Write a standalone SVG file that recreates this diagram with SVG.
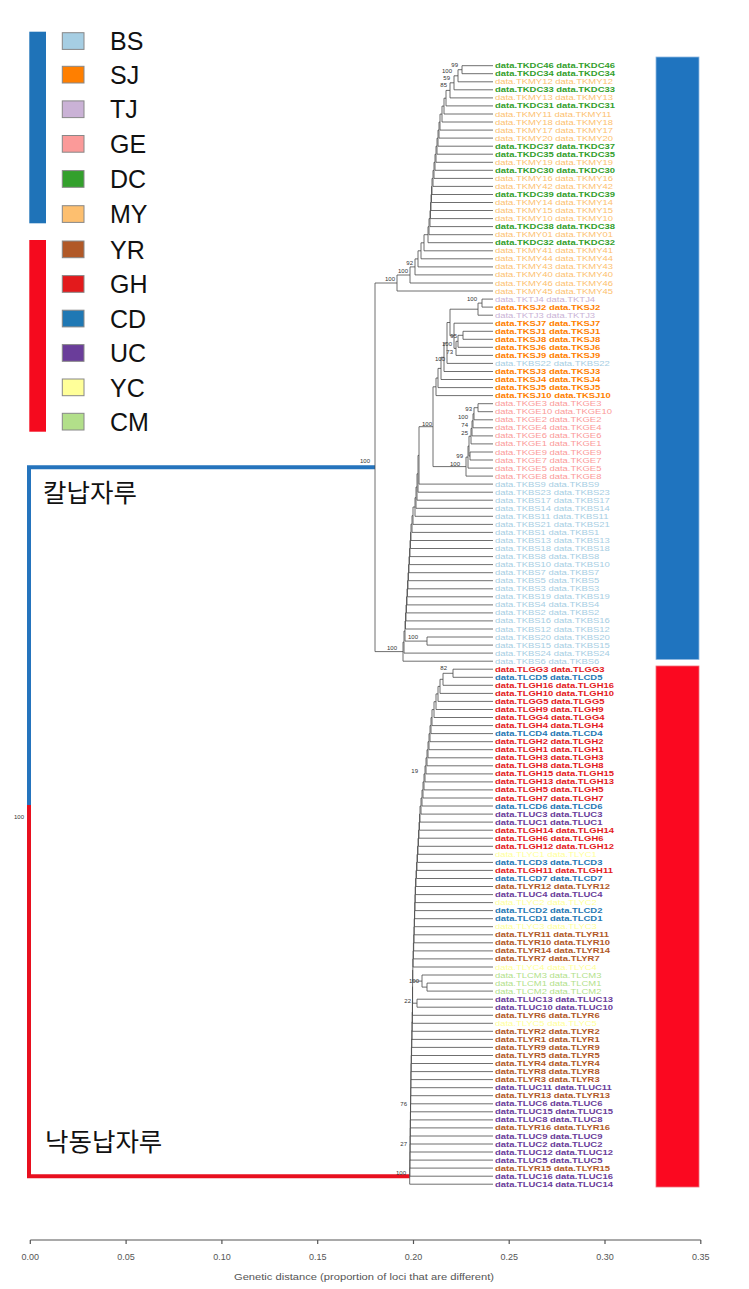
<svg xmlns="http://www.w3.org/2000/svg" width="749" height="1289" viewBox="0 0 749 1289">
<style>
text{font-family:"Liberation Sans",Arial,sans-serif}
.br{fill:none;stroke:#4a4a4a;stroke-width:0.8}
.nl{font-size:6px;fill:#333;text-anchor:end}
.tip text{font-size:7px}
.BS{fill:#a6cee3}.SJ{fill:#ff7f00;font-weight:bold}.TJ{fill:#cab2d6}.GE{fill:#fb9a99}
.DC{fill:#33a02c;font-weight:bold}.MY{fill:#fdbf6f}.YR{fill:#b15928;font-weight:bold}
.GH{fill:#e31a1c;font-weight:bold}.CD{fill:#1f78b4;font-weight:bold}.UC{fill:#6a3d9a;font-weight:bold}
.YC{fill:#ffff99}.CM{fill:#b2df8a}
.sq{stroke:#888;stroke-width:1}
.lg{font-size:25px;fill:#111}
.kr{font-family:"Noto Sans CJK KR","Noto Sans CJK SC",sans-serif;font-size:25.5px;fill:#111}
.ax{font-size:9px;fill:#555;text-anchor:middle}
</style>
<rect width="749" height="1289" fill="#fff"/>

<g id="legend">
<rect x="29.3" y="31.7" width="16.7" height="191.6" fill="#1f73b8"/>
<rect x="29.3" y="240" width="16.7" height="191.7" fill="#f50a1e"/>
<g id="lg-BS"><rect class="sq" x="62.3" y="32.7" width="21.7" height="16.7" fill="#a6cee3"/><text class="lg" x="110" y="50.2">BS</text></g>
<g id="lg-SJ"><rect class="sq" x="62.3" y="66.3" width="21.7" height="16.7" fill="#ff7f00"/><text class="lg" x="110" y="83.8">SJ</text></g>
<g id="lg-TJ"><rect class="sq" x="62.3" y="100.9" width="21.7" height="16.7" fill="#cab2d6"/><text class="lg" x="110" y="118.4">TJ</text></g>
<g id="lg-GE"><rect class="sq" x="62.3" y="135.5" width="21.7" height="16.7" fill="#fb9a99"/><text class="lg" x="110" y="153">GE</text></g>
<g id="lg-DC"><rect class="sq" x="62.3" y="170.6" width="21.7" height="16.7" fill="#33a02c"/><text class="lg" x="110" y="188.1">DC</text></g>
<g id="lg-MY"><rect class="sq" x="62.3" y="205.7" width="21.7" height="16.7" fill="#fdbf6f"/><text class="lg" x="110" y="223.2">MY</text></g>
<g id="lg-YR"><rect class="sq" x="62.3" y="241" width="21.7" height="16.7" fill="#b15928"/><text class="lg" x="110" y="258.5">YR</text></g>
<g id="lg-GH"><rect class="sq" x="62.3" y="275.6" width="21.7" height="16.7" fill="#e31a1c"/><text class="lg" x="110" y="293.1">GH</text></g>
<g id="lg-CD"><rect class="sq" x="62.3" y="310.2" width="21.7" height="16.7" fill="#1f78b4"/><text class="lg" x="110" y="327.7">CD</text></g>
<g id="lg-UC"><rect class="sq" x="62.3" y="344.6" width="21.7" height="16.7" fill="#6a3d9a"/><text class="lg" x="110" y="362.1">UC</text></g>
<g id="lg-YC"><rect class="sq" x="62.3" y="379" width="21.7" height="16.7" fill="#ffff99"/><text class="lg" x="110" y="396.5">YC</text></g>
<g id="lg-CM"><rect class="sq" x="62.3" y="413.3" width="21.7" height="16.7" fill="#b2df8a"/><text class="lg" x="110" y="430.8">CM</text></g>
</g>

<g id="bars">
<rect id="bar-blue" x="656" y="57" width="43" height="602.5" fill="#1f74bf" stroke="#8fb8e0" stroke-width="0.8"/>
<rect id="bar-red" x="656" y="666" width="43" height="521" fill="#fb0820" stroke="#f0707a" stroke-width="0.8"/>
</g>

<g id="clade-labels">
<text class="kr" x="43" y="502">칼납자루</text>
<text class="kr" x="45" y="1151">낙동납자루</text>
</g>

<g id="connectors">
<path d="M375,467.3H29V805" fill="none" stroke="#2574bd" stroke-width="4"/>
<path d="M29,805V1176.2H409.7" fill="none" stroke="#e8101f" stroke-width="4"/>
<path class="br" d="M493,65.7H462V73.7H493M462,69.7H458V81.8H493M458,75.8H454V89.8H493M454,82.8H450V97.9H493M450,90.4H446V105.9H493M446,98.2H444V114H493M444,106.1H442V122H493M442,114.1H440V130.1H493M440,122.1H439V138.1H493M439,130.1H438V146.2H493M438,138.2H437V154.2H493M437,146.2H436V162.3H493M436,154.3H435V170.3H493M435,162.3H434V178.4H493M434,170.4H433V186.4H493M433,178.4H432V194.5H493M432,186.5H431.5V202.5H493M431.5,194.5H431V210.5H493M431,202.5H430.5V218.6H493M430.5,210.6H430V226.6H493M430,218.6H429V234.7H493M429,226.7H428V242.7H493M428,234.7H424V250.8H493M424,242.8H421V258.8H493M421,250.8H418V266.9H493M418,258.9H415V274.9H493M415,266.9H410V283H493M410,275H397V291H493"/>
<path class="br" d="M493,299.1H482V307.1H493M482,303.1H478V315.2H493M493,331.3H463V339.3H493M463,335.3H458V347.3H493M458,341.3H456V355.4H493M493,323.2H454V348.4H456M478,309.2H450V335.8H454M450,322.5H447V363.4H493M447,343H444V371.5H493M444,357.3H441V379.5H493M441,368.4H438V387.6H493M438,378H436V395.6H493"/>
<path class="br" d="M493,403.7H478V411.7H493M478,407.7H474V419.8H493M474,413.8H473V427.8H493M473,420.8H472V435.9H493M472,428.4H471V443.9H493M493,452H470V460H493M471,436.2H469V456H470M469,446.1H468V468.1H493M468,457.1H466V476.1H493M436,386.8H433V466.6H466"/>
<path class="br" d="M433,426.7H419V484.1H493M419,455.4H418V492.2H493M418,473.8H417V500.2H493M417,487H416V508.3H493M416,497.7H415V516.3H493M415,507H413V524.4H493M413,515.7H412V532.4H493M412,524.1H411V540.5H493M411,532.3H410.5V548.5H493M410.5,540.4H410V556.6H493M410,548.5H409.5V564.6H493M409.5,556.6H409V572.7H493M409,564.6H408.5V580.7H493M408.5,572.7H408V588.8H493M408,580.7H407.5V596.8H493M407.5,588.8H407V604.9H493M407,596.8H406.5V612.9H493M406.5,604.9H406V620.9H493M406,612.9H405.5V629H493M493,637H427V645.1H493M405.5,621H405V641.1H427M405,631H404V653.1H493M404,642.1H403V661.2H493M397,283H375V651.6H403"/>
<path class="br" d="M493,669.2H453V677.3H493M453,673.3H443V685.3H493M443,679.3H440V693.4H493M440,686.4H438V701.4H493M438,693.9H436V709.5H493M436,701.7H434V717.5H493M434,709.6H432V725.6H493M432,717.6H431V733.6H493M431,725.6H430V741.7H493M430,733.7H429V749.7H493M429,741.7H428V757.8H493M428,749.8H427V765.8H493M427,757.8H426V773.9H493M426,765.9H425V781.9H493M425,773.9H424V789.9H493M424,781.9H423V798H493M423,790H422V806H493M422,798H421V814.1H493M421,806.1H420V822.1H493M420,814.1H419.5V830.2H493M419.5,822.2H419V838.2H493M419,830.2H418.5V846.3H493M418.5,838.3H418V854.3H493M418,846.3H417.5V862.4H493M417.5,854.4H417V870.4H493M417,862.4H416.5V878.5H493M416.5,870.5H416V886.5H493M416,878.5H415.5V894.6H493M415.5,886.6H415.2V902.6H493M415.2,894.6H415V910.6H493M415,902.6H414.7V918.7H493M414.7,910.7H414.5V926.7H493M414.5,918.7H414.2V934.8H493M414.2,926.8H414V942.8H493M414,934.8H413.7V950.9H493M413.7,942.9H413.4V958.9H493M413.4,950.9H413.1V967H493"/>
<path class="br" d="M493,983.1H427V991.1H493M493,975H422V987.1H427M413.1,959H412.8V981.1H422M493,999.2H417V1007.2H493M412.8,970.1H412.6V1003.2H417M412.6,986.7H412.5V1015.3H493M412.5,1001H412.4V1023.3H493M412.4,1012.2H412.2V1031.3H493M412.2,1021.8H412V1039.4H493M412,1030.6H411.8V1047.4H493M411.8,1039H411.6V1055.5H493M411.6,1047.3H411.4V1063.5H493M411.4,1055.4H411.2V1071.6H493M411.2,1063.5H411V1079.6H493M411,1071.6H410.9V1087.7H493M410.9,1079.7H410.8V1095.7H493M410.8,1087.7H410.7V1103.8H493M410.7,1095.8H410.6V1111.8H493M410.6,1103.8H410.5V1119.9H493M410.5,1111.9H410.4V1127.9H493M410.4,1119.9H410.3V1136H493M410.3,1128H410.2V1144H493M410.2,1136H410.1V1152H493M410.1,1144H410V1160.1H493M410,1152.1H409.9V1168.1H493M409.9,1160.1H409.8V1176.2H493M409.8,1168.2H409.7V1184.2H493"/>
</g>

<g id="node-labels">
<text class="nl" x="458" y="67">99</text>
<text class="nl" x="452" y="73">100</text>
<text class="nl" x="450" y="80">59</text>
<text class="nl" x="447" y="87">85</text>
<text class="nl" x="413" y="265">92</text>
<text class="nl" x="408" y="273">100</text>
<text class="nl" x="395" y="281">100</text>
<text class="nl" x="477" y="301">100</text>
<text class="nl" x="457" y="338">95</text>
<text class="nl" x="452" y="346">100</text>
<text class="nl" x="453" y="354">73</text>
<text class="nl" x="445" y="361">100</text>
<text class="nl" x="472" y="411">93</text>
<text class="nl" x="468" y="419">100</text>
<text class="nl" x="468" y="427">74</text>
<text class="nl" x="468" y="435">25</text>
<text class="nl" x="463" y="458">99</text>
<text class="nl" x="460" y="466">100</text>
<text class="nl" x="432" y="426">100</text>
<text class="nl" x="418" y="639">100</text>
<text class="nl" x="397" y="650">100</text>
<text class="nl" x="370" y="463">100</text>
<text class="nl" x="24" y="819">100</text>
<text class="nl" x="447" y="670">82</text>
<text class="nl" x="418" y="773">19</text>
<text class="nl" x="419" y="983">100</text>
<text class="nl" x="411" y="1003">22</text>
<text class="nl" x="407" y="1106">76</text>
<text class="nl" x="407" y="1146">27</text>
<text class="nl" x="406" y="1175">100</text>
</g>

<g id="tips" class="tip">
<g id="t0"><text class="DC" transform="matrix(1.35 0 0 1 495 68.2)">data.TKDC46 data.TKDC46</text></g>
<g id="t1"><text class="DC" transform="matrix(1.35 0 0 1 495 76.2)">data.TKDC34 data.TKDC34</text></g>
<g id="t2"><text class="MY" transform="matrix(1.35 0 0 1 495 84.3)">data.TKMY12 data.TKMY12</text></g>
<g id="t3"><text class="DC" transform="matrix(1.35 0 0 1 495 92.3)">data.TKDC33 data.TKDC33</text></g>
<g id="t4"><text class="MY" transform="matrix(1.35 0 0 1 495 100.4)">data.TKMY13 data.TKMY13</text></g>
<g id="t5"><text class="DC" transform="matrix(1.35 0 0 1 495 108.4)">data.TKDC31 data.TKDC31</text></g>
<g id="t6"><text class="MY" transform="matrix(1.35 0 0 1 495 116.5)">data.TKMY11 data.TKMY11</text></g>
<g id="t7"><text class="MY" transform="matrix(1.35 0 0 1 495 124.5)">data.TKMY18 data.TKMY18</text></g>
<g id="t8"><text class="MY" transform="matrix(1.35 0 0 1 495 132.6)">data.TKMY17 data.TKMY17</text></g>
<g id="t9"><text class="MY" transform="matrix(1.35 0 0 1 495 140.6)">data.TKMY20 data.TKMY20</text></g>
<g id="t10"><text class="DC" transform="matrix(1.35 0 0 1 495 148.7)">data.TKDC37 data.TKDC37</text></g>
<g id="t11"><text class="DC" transform="matrix(1.35 0 0 1 495 156.7)">data.TKDC35 data.TKDC35</text></g>
<g id="t12"><text class="MY" transform="matrix(1.35 0 0 1 495 164.8)">data.TKMY19 data.TKMY19</text></g>
<g id="t13"><text class="DC" transform="matrix(1.35 0 0 1 495 172.8)">data.TKDC30 data.TKDC30</text></g>
<g id="t14"><text class="MY" transform="matrix(1.35 0 0 1 495 180.9)">data.TKMY16 data.TKMY16</text></g>
<g id="t15"><text class="MY" transform="matrix(1.35 0 0 1 495 188.9)">data.TKMY42 data.TKMY42</text></g>
<g id="t16"><text class="DC" transform="matrix(1.35 0 0 1 495 197)">data.TKDC39 data.TKDC39</text></g>
<g id="t17"><text class="MY" transform="matrix(1.35 0 0 1 495 205)">data.TKMY14 data.TKMY14</text></g>
<g id="t18"><text class="MY" transform="matrix(1.35 0 0 1 495 213)">data.TKMY15 data.TKMY15</text></g>
<g id="t19"><text class="MY" transform="matrix(1.35 0 0 1 495 221.1)">data.TKMY10 data.TKMY10</text></g>
<g id="t20"><text class="DC" transform="matrix(1.35 0 0 1 495 229.1)">data.TKDC38 data.TKDC38</text></g>
<g id="t21"><text class="MY" transform="matrix(1.35 0 0 1 495 237.2)">data.TKMY01 data.TKMY01</text></g>
<g id="t22"><text class="DC" transform="matrix(1.35 0 0 1 495 245.2)">data.TKDC32 data.TKDC32</text></g>
<g id="t23"><text class="MY" transform="matrix(1.35 0 0 1 495 253.3)">data.TKMY41 data.TKMY41</text></g>
<g id="t24"><text class="MY" transform="matrix(1.35 0 0 1 495 261.3)">data.TKMY44 data.TKMY44</text></g>
<g id="t25"><text class="MY" transform="matrix(1.35 0 0 1 495 269.4)">data.TKMY43 data.TKMY43</text></g>
<g id="t26"><text class="MY" transform="matrix(1.35 0 0 1 495 277.4)">data.TKMY40 data.TKMY40</text></g>
<g id="t27"><text class="MY" transform="matrix(1.35 0 0 1 495 285.5)">data.TKMY46 data.TKMY46</text></g>
<g id="t28"><text class="MY" transform="matrix(1.35 0 0 1 495 293.5)">data.TKMY45 data.TKMY45</text></g>
<g id="t29"><text class="TJ" transform="matrix(1.35 0 0 1 495 301.6)">data.TKTJ4 data.TKTJ4</text></g>
<g id="t30"><text class="SJ" transform="matrix(1.35 0 0 1 495 309.6)">data.TKSJ2 data.TKSJ2</text></g>
<g id="t31"><text class="TJ" transform="matrix(1.35 0 0 1 495 317.7)">data.TKTJ3 data.TKTJ3</text></g>
<g id="t32"><text class="SJ" transform="matrix(1.35 0 0 1 495 325.7)">data.TKSJ7 data.TKSJ7</text></g>
<g id="t33"><text class="SJ" transform="matrix(1.35 0 0 1 495 333.8)">data.TKSJ1 data.TKSJ1</text></g>
<g id="t34"><text class="SJ" transform="matrix(1.35 0 0 1 495 341.8)">data.TKSJ8 data.TKSJ8</text></g>
<g id="t35"><text class="SJ" transform="matrix(1.35 0 0 1 495 349.8)">data.TKSJ6 data.TKSJ6</text></g>
<g id="t36"><text class="SJ" transform="matrix(1.35 0 0 1 495 357.9)">data.TKSJ9 data.TKSJ9</text></g>
<g id="t37"><text class="BS" transform="matrix(1.35 0 0 1 495 365.9)">data.TKBS22 data.TKBS22</text></g>
<g id="t38"><text class="SJ" transform="matrix(1.35 0 0 1 495 374)">data.TKSJ3 data.TKSJ3</text></g>
<g id="t39"><text class="SJ" transform="matrix(1.35 0 0 1 495 382)">data.TKSJ4 data.TKSJ4</text></g>
<g id="t40"><text class="SJ" transform="matrix(1.35 0 0 1 495 390.1)">data.TKSJ5 data.TKSJ5</text></g>
<g id="t41"><text class="SJ" transform="matrix(1.35 0 0 1 495 398.1)">data.TKSJ10 data.TKSJ10</text></g>
<g id="t42"><text class="GE" transform="matrix(1.35 0 0 1 495 406.2)">data.TKGE3 data.TKGE3</text></g>
<g id="t43"><text class="GE" transform="matrix(1.35 0 0 1 495 414.2)">data.TKGE10 data.TKGE10</text></g>
<g id="t44"><text class="GE" transform="matrix(1.35 0 0 1 495 422.3)">data.TKGE2 data.TKGE2</text></g>
<g id="t45"><text class="GE" transform="matrix(1.35 0 0 1 495 430.3)">data.TKGE4 data.TKGE4</text></g>
<g id="t46"><text class="GE" transform="matrix(1.35 0 0 1 495 438.4)">data.TKGE6 data.TKGE6</text></g>
<g id="t47"><text class="GE" transform="matrix(1.35 0 0 1 495 446.4)">data.TKGE1 data.TKGE1</text></g>
<g id="t48"><text class="GE" transform="matrix(1.35 0 0 1 495 454.5)">data.TKGE9 data.TKGE9</text></g>
<g id="t49"><text class="GE" transform="matrix(1.35 0 0 1 495 462.5)">data.TKGE7 data.TKGE7</text></g>
<g id="t50"><text class="GE" transform="matrix(1.35 0 0 1 495 470.6)">data.TKGE5 data.TKGE5</text></g>
<g id="t51"><text class="GE" transform="matrix(1.35 0 0 1 495 478.6)">data.TKGE8 data.TKGE8</text></g>
<g id="t52"><text class="BS" transform="matrix(1.35 0 0 1 495 486.6)">data.TKBS9 data.TKBS9</text></g>
<g id="t53"><text class="BS" transform="matrix(1.35 0 0 1 495 494.7)">data.TKBS23 data.TKBS23</text></g>
<g id="t54"><text class="BS" transform="matrix(1.35 0 0 1 495 502.7)">data.TKBS17 data.TKBS17</text></g>
<g id="t55"><text class="BS" transform="matrix(1.35 0 0 1 495 510.8)">data.TKBS14 data.TKBS14</text></g>
<g id="t56"><text class="BS" transform="matrix(1.35 0 0 1 495 518.8)">data.TKBS11 data.TKBS11</text></g>
<g id="t57"><text class="BS" transform="matrix(1.35 0 0 1 495 526.9)">data.TKBS21 data.TKBS21</text></g>
<g id="t58"><text class="BS" transform="matrix(1.35 0 0 1 495 534.9)">data.TKBS1 data.TKBS1</text></g>
<g id="t59"><text class="BS" transform="matrix(1.35 0 0 1 495 543)">data.TKBS13 data.TKBS13</text></g>
<g id="t60"><text class="BS" transform="matrix(1.35 0 0 1 495 551)">data.TKBS18 data.TKBS18</text></g>
<g id="t61"><text class="BS" transform="matrix(1.35 0 0 1 495 559.1)">data.TKBS8 data.TKBS8</text></g>
<g id="t62"><text class="BS" transform="matrix(1.35 0 0 1 495 567.1)">data.TKBS10 data.TKBS10</text></g>
<g id="t63"><text class="BS" transform="matrix(1.35 0 0 1 495 575.2)">data.TKBS7 data.TKBS7</text></g>
<g id="t64"><text class="BS" transform="matrix(1.35 0 0 1 495 583.2)">data.TKBS5 data.TKBS5</text></g>
<g id="t65"><text class="BS" transform="matrix(1.35 0 0 1 495 591.3)">data.TKBS3 data.TKBS3</text></g>
<g id="t66"><text class="BS" transform="matrix(1.35 0 0 1 495 599.3)">data.TKBS19 data.TKBS19</text></g>
<g id="t67"><text class="BS" transform="matrix(1.35 0 0 1 495 607.4)">data.TKBS4 data.TKBS4</text></g>
<g id="t68"><text class="BS" transform="matrix(1.35 0 0 1 495 615.4)">data.TKBS2 data.TKBS2</text></g>
<g id="t69"><text class="BS" transform="matrix(1.35 0 0 1 495 623.4)">data.TKBS16 data.TKBS16</text></g>
<g id="t70"><text class="BS" transform="matrix(1.35 0 0 1 495 631.5)">data.TKBS12 data.TKBS12</text></g>
<g id="t71"><text class="BS" transform="matrix(1.35 0 0 1 495 639.5)">data.TKBS20 data.TKBS20</text></g>
<g id="t72"><text class="BS" transform="matrix(1.35 0 0 1 495 647.6)">data.TKBS15 data.TKBS15</text></g>
<g id="t73"><text class="BS" transform="matrix(1.35 0 0 1 495 655.6)">data.TKBS24 data.TKBS24</text></g>
<g id="t74"><text class="BS" transform="matrix(1.35 0 0 1 495 663.7)">data.TKBS6 data.TKBS6</text></g>
<g id="t75"><text class="GH" transform="matrix(1.35 0 0 1 495 671.7)">data.TLGG3 data.TLGG3</text></g>
<g id="t76"><text class="CD" transform="matrix(1.35 0 0 1 495 679.8)">data.TLCD5 data.TLCD5</text></g>
<g id="t77"><text class="GH" transform="matrix(1.35 0 0 1 495 687.8)">data.TLGH16 data.TLGH16</text></g>
<g id="t78"><text class="GH" transform="matrix(1.35 0 0 1 495 695.9)">data.TLGH10 data.TLGH10</text></g>
<g id="t79"><text class="GH" transform="matrix(1.35 0 0 1 495 703.9)">data.TLGG5 data.TLGG5</text></g>
<g id="t80"><text class="GH" transform="matrix(1.35 0 0 1 495 712)">data.TLGH9 data.TLGH9</text></g>
<g id="t81"><text class="GH" transform="matrix(1.35 0 0 1 495 720)">data.TLGG4 data.TLGG4</text></g>
<g id="t82"><text class="GH" transform="matrix(1.35 0 0 1 495 728.1)">data.TLGH4 data.TLGH4</text></g>
<g id="t83"><text class="CD" transform="matrix(1.35 0 0 1 495 736.1)">data.TLCD4 data.TLCD4</text></g>
<g id="t84"><text class="GH" transform="matrix(1.35 0 0 1 495 744.2)">data.TLGH2 data.TLGH2</text></g>
<g id="t85"><text class="GH" transform="matrix(1.35 0 0 1 495 752.2)">data.TLGH1 data.TLGH1</text></g>
<g id="t86"><text class="GH" transform="matrix(1.35 0 0 1 495 760.3)">data.TLGH3 data.TLGH3</text></g>
<g id="t87"><text class="GH" transform="matrix(1.35 0 0 1 495 768.3)">data.TLGH8 data.TLGH8</text></g>
<g id="t88"><text class="GH" transform="matrix(1.35 0 0 1 495 776.4)">data.TLGH15 data.TLGH15</text></g>
<g id="t89"><text class="GH" transform="matrix(1.35 0 0 1 495 784.4)">data.TLGH13 data.TLGH13</text></g>
<g id="t90"><text class="GH" transform="matrix(1.35 0 0 1 495 792.4)">data.TLGH5 data.TLGH5</text></g>
<g id="t91"><text class="GH" transform="matrix(1.35 0 0 1 495 800.5)">data.TLGH7 data.TLGH7</text></g>
<g id="t92"><text class="CD" transform="matrix(1.35 0 0 1 495 808.5)">data.TLCD6 data.TLCD6</text></g>
<g id="t93"><text class="UC" transform="matrix(1.35 0 0 1 495 816.6)">data.TLUC3 data.TLUC3</text></g>
<g id="t94"><text class="UC" transform="matrix(1.35 0 0 1 495 824.6)">data.TLUC1 data.TLUC1</text></g>
<g id="t95"><text class="GH" transform="matrix(1.35 0 0 1 495 832.7)">data.TLGH14 data.TLGH14</text></g>
<g id="t96"><text class="GH" transform="matrix(1.35 0 0 1 495 840.7)">data.TLGH6 data.TLGH6</text></g>
<g id="t97"><text class="GH" transform="matrix(1.35 0 0 1 495 848.8)">data.TLGH12 data.TLGH12</text></g>
<g id="t98"><text class="YC" transform="matrix(1.35 0 0 1 495 856.8)">data.TLYC1 data.TLYC1</text></g>
<g id="t99"><text class="CD" transform="matrix(1.35 0 0 1 495 864.9)">data.TLCD3 data.TLCD3</text></g>
<g id="t100"><text class="GH" transform="matrix(1.35 0 0 1 495 872.9)">data.TLGH11 data.TLGH11</text></g>
<g id="t101"><text class="CD" transform="matrix(1.35 0 0 1 495 881)">data.TLCD7 data.TLCD7</text></g>
<g id="t102"><text class="YR" transform="matrix(1.35 0 0 1 495 889)">data.TLYR12 data.TLYR12</text></g>
<g id="t103"><text class="UC" transform="matrix(1.35 0 0 1 495 897.1)">data.TLUC4 data.TLUC4</text></g>
<g id="t104"><text class="YC" transform="matrix(1.35 0 0 1 495 905.1)">data.TLYC2 data.TLYC2</text></g>
<g id="t105"><text class="CD" transform="matrix(1.35 0 0 1 495 913.1)">data.TLCD2 data.TLCD2</text></g>
<g id="t106"><text class="CD" transform="matrix(1.35 0 0 1 495 921.2)">data.TLCD1 data.TLCD1</text></g>
<g id="t107"><text class="YC" transform="matrix(1.35 0 0 1 495 929.2)">data.TLYC3 data.TLYC3</text></g>
<g id="t108"><text class="YR" transform="matrix(1.35 0 0 1 495 937.3)">data.TLYR11 data.TLYR11</text></g>
<g id="t109"><text class="YR" transform="matrix(1.35 0 0 1 495 945.3)">data.TLYR10 data.TLYR10</text></g>
<g id="t110"><text class="YR" transform="matrix(1.35 0 0 1 495 953.4)">data.TLYR14 data.TLYR14</text></g>
<g id="t111"><text class="YR" transform="matrix(1.35 0 0 1 495 961.4)">data.TLYR7 data.TLYR7</text></g>
<g id="t112"><text class="YC" transform="matrix(1.35 0 0 1 495 969.5)">data.TLYC4 data.TLYC4</text></g>
<g id="t113"><text class="CM" transform="matrix(1.35 0 0 1 495 977.5)">data.TLCM3 data.TLCM3</text></g>
<g id="t114"><text class="CM" transform="matrix(1.35 0 0 1 495 985.6)">data.TLCM1 data.TLCM1</text></g>
<g id="t115"><text class="CM" transform="matrix(1.35 0 0 1 495 993.6)">data.TLCM2 data.TLCM2</text></g>
<g id="t116"><text class="UC" transform="matrix(1.35 0 0 1 495 1001.7)">data.TLUC13 data.TLUC13</text></g>
<g id="t117"><text class="UC" transform="matrix(1.35 0 0 1 495 1009.7)">data.TLUC10 data.TLUC10</text></g>
<g id="t118"><text class="YR" transform="matrix(1.35 0 0 1 495 1017.8)">data.TLYR6 data.TLYR6</text></g>
<g id="t119"><text class="YC" transform="matrix(1.35 0 0 1 495 1025.8)">data.TLYC5 data.TLYC5</text></g>
<g id="t120"><text class="YR" transform="matrix(1.35 0 0 1 495 1033.8)">data.TLYR2 data.TLYR2</text></g>
<g id="t121"><text class="YR" transform="matrix(1.35 0 0 1 495 1041.9)">data.TLYR1 data.TLYR1</text></g>
<g id="t122"><text class="YR" transform="matrix(1.35 0 0 1 495 1049.9)">data.TLYR9 data.TLYR9</text></g>
<g id="t123"><text class="YR" transform="matrix(1.35 0 0 1 495 1058)">data.TLYR5 data.TLYR5</text></g>
<g id="t124"><text class="YR" transform="matrix(1.35 0 0 1 495 1066)">data.TLYR4 data.TLYR4</text></g>
<g id="t125"><text class="YR" transform="matrix(1.35 0 0 1 495 1074.1)">data.TLYR8 data.TLYR8</text></g>
<g id="t126"><text class="YR" transform="matrix(1.35 0 0 1 495 1082.1)">data.TLYR3 data.TLYR3</text></g>
<g id="t127"><text class="UC" transform="matrix(1.35 0 0 1 495 1090.2)">data.TLUC11 data.TLUC11</text></g>
<g id="t128"><text class="YR" transform="matrix(1.35 0 0 1 495 1098.2)">data.TLYR13 data.TLYR13</text></g>
<g id="t129"><text class="UC" transform="matrix(1.35 0 0 1 495 1106.3)">data.TLUC6 data.TLUC6</text></g>
<g id="t130"><text class="UC" transform="matrix(1.35 0 0 1 495 1114.3)">data.TLUC15 data.TLUC15</text></g>
<g id="t131"><text class="UC" transform="matrix(1.35 0 0 1 495 1122.4)">data.TLUC8 data.TLUC8</text></g>
<g id="t132"><text class="YR" transform="matrix(1.35 0 0 1 495 1130.4)">data.TLYR16 data.TLYR16</text></g>
<g id="t133"><text class="UC" transform="matrix(1.35 0 0 1 495 1138.5)">data.TLUC9 data.TLUC9</text></g>
<g id="t134"><text class="UC" transform="matrix(1.35 0 0 1 495 1146.5)">data.TLUC2 data.TLUC2</text></g>
<g id="t135"><text class="UC" transform="matrix(1.35 0 0 1 495 1154.5)">data.TLUC12 data.TLUC12</text></g>
<g id="t136"><text class="UC" transform="matrix(1.35 0 0 1 495 1162.6)">data.TLUC5 data.TLUC5</text></g>
<g id="t137"><text class="YR" transform="matrix(1.35 0 0 1 495 1170.6)">data.TLYR15 data.TLYR15</text></g>
<g id="t138"><text class="UC" transform="matrix(1.35 0 0 1 495 1178.7)">data.TLUC16 data.TLUC16</text></g>
<g id="t139"><text class="UC" transform="matrix(1.35 0 0 1 495 1186.7)">data.TLUC14 data.TLUC14</text></g>
</g>

<g id="axis">
<path d="M30.3,1240H700.8M30.3,1240v4M126.1,1240v4M221.9,1240v4M317.7,1240v4M413.5,1240v4M509.2,1240v4M605,1240v4M700.8,1240v4" fill="none" stroke="#555" stroke-width="1.2"/>
<text class="ax" x="30.3" y="1260">0.00</text>
<text class="ax" x="126.1" y="1260">0.05</text>
<text class="ax" x="221.9" y="1260">0.10</text>
<text class="ax" x="317.7" y="1260">0.15</text>
<text class="ax" x="413.5" y="1260">0.20</text>
<text class="ax" x="509.2" y="1260">0.25</text>
<text class="ax" x="605" y="1260">0.30</text>
<text class="ax" x="700.8" y="1260">0.35</text>
<text class="ax" x="364" y="1280" textLength="260" lengthAdjust="spacingAndGlyphs">Genetic distance (proportion of loci that are different)</text>
</g>
</svg>
